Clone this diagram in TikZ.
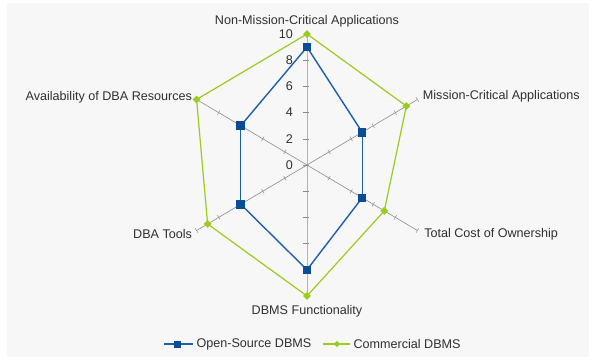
\documentclass[tikz,border=0pt]{standalone}
\usepackage{fontspec}
\setmainfont{Liberation Sans}
\usetikzlibrary{positioning,shapes.geometric}
\definecolor{osblue}{HTML}{1F5EA8}
\definecolor{osmark}{HTML}{0B4C97}
\definecolor{comgreen}{HTML}{9ACC1C}
\definecolor{axisgray}{HTML}{8C8C8C}
\definecolor{vaxisgray}{HTML}{B4B4B4}
\definecolor{panelgray}{HTML}{F7F7F7}
\definecolor{labeltext}{HTML}{303030}

\begin{document}
\begin{tikzpicture}[x=12.75pt, y=13.1pt, font=\fontsize{12.6}{14}\selectfont, text=labeltext,
    ossquare/.style={rectangle, fill=osmark, inner sep=0pt, minimum size=8.5pt},
    comdiamond/.style={diamond, fill=comgreen, inner sep=0pt, minimum size=8pt},
    osline/.style={draw=osblue, line width=1.4pt},
    comline/.style={draw=comgreen, line width=1.2pt},
    tickmark/.style={draw=axisgray, line width=0.5pt}]
    \useasboundingbox (-307pt,-194pt) rectangle (282pt,165pt);
    \fill[panelgray] (-300pt,-192pt) rectangle (282pt,162pt);
    % axes
    \coordinate (origin) at (0,0);
    \foreach \ang/\nm in {90/nmc,30/mca,-30/tco,-90/dbf,-150/tools,150/avail}
        \coordinate (\nm) at (\ang:10);
    \draw[vaxisgray, line width=0.6pt] (dbf) -- (nmc);
    \foreach \v in {-8,-6,...,8}
        \draw[tickmark] ([xshift=-4pt]0,\v) -- ([xshift=2pt]0,\v);
    \foreach \v in {0,2,...,10}
        \node[anchor=east] (num\v) at ([xshift=-10.5pt]0,\v) {\v};
    \foreach \nm in {mca,tco,tools,avail}
        \draw[axisgray, line width=0.6pt] (origin) -- (\nm);
    \foreach \ang in {30,-30,-150,150}
        \foreach \r in {2,4,...,10}
            \draw[tickmark] (\ang:\r) ++(\ang+90:2.5pt) -- ++(\ang-90:5pt);
    % axis labels
    \node (nmctext) at ([yshift=12.3pt]nmc) {Non-Mission-Critical Applications};
    \node[anchor=west] (mcatext) at ([xshift=2pt,yshift=2.8pt]mca) {Mission-Critical Applications};
    \node[anchor=west] (tcotext) at ([xshift=3.3pt,yshift=-3.5pt]tco) {Total Cost of Ownership};
    \node (dbftext) at ([yshift=-15pt]dbf) {DBMS Functionality};
    \node[anchor=east] (toolstext) at ([xshift=-1pt,yshift=-3.5pt]tools) {DBA Tools};
    \node[anchor=east] (availtext) at ([xshift=-1pt,yshift=2.2pt]avail) {Availability of DBA Resources};
    % series
    \foreach \ang/\val [count=\i] in {90/10,30/9,-30/7,-90/10,-150/9,150/10}
        \coordinate (cm\i) at (\ang:\val);
    \foreach \i/\j in {1/2,2/3,3/4,4/5,5/6,6/1}
        \draw[comline] (cm\i) -- (cm\j);
    \foreach \i in {1,...,6}
        \node[comdiamond] (cmdot\i) at (cm\i) {};
    \foreach \ang/\val [count=\i] in {90/9,30/5,-30/5,-90/8,-150/6,150/6}
        \coordinate (os\i) at (\ang:\val);
    \foreach \i/\j in {1/2,2/3,3/4,4/5,5/6,6/1}
        \draw[osline] (os\i) -- (os\j);
    \foreach \i in {1,...,6}
        \node[ossquare] (osdot\i) at (os\i) {};
    % legend
    \coordinate (oskeyl) at (-143pt,-179pt);
    \coordinate (oskeyr) at (-114pt,-179pt);
    \draw[osline, line width=1.2pt] (oskeyl) -- (oskeyr);
    \node[ossquare, minimum size=7pt] (oskey) at (-129pt,-179pt) {};
    \node[anchor=west] (oskeytext) at (oskeyr) {Open-Source DBMS};
    \coordinate (cmkeyl) at (16pt,-179pt);
    \coordinate (cmkeyr) at (43pt,-179pt);
    \draw[comline] (cmkeyl) -- (cmkeyr);
    \node[comdiamond, minimum size=6.5pt] (cmkey) at (30pt,-179pt) {};
    \node[anchor=west] (cmkeytext) at (cmkeyr) {Commercial DBMS};
\end{tikzpicture}
\end{document}
